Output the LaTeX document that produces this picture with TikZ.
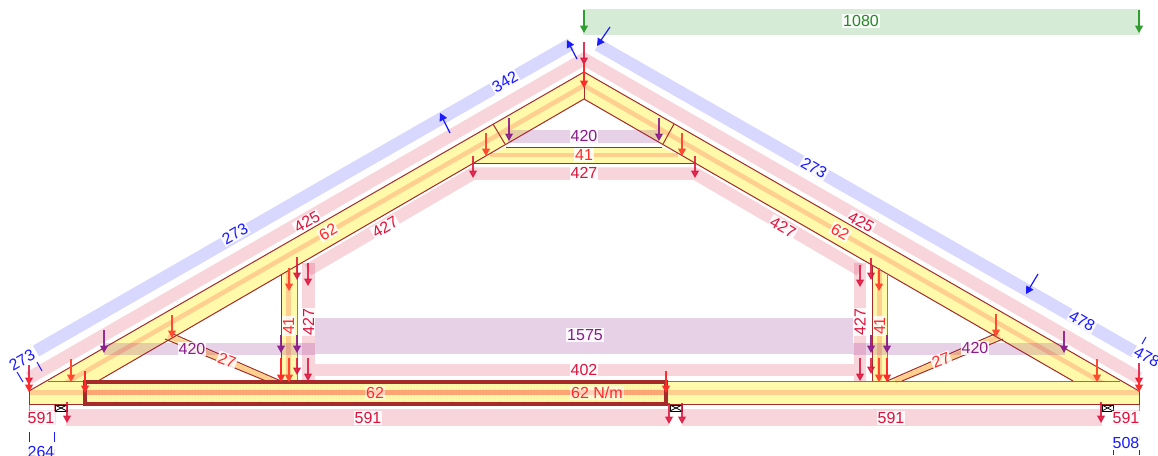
\documentclass[tikz,border=0pt]{standalone}
\usepackage{fontspec}
\setmainfont{Liberation Sans}
\usetikzlibrary{arrows.meta,patterns}
\definecolor{cCrim}{HTML}{DC143C}
\definecolor{cRed}{HTML}{FF2A2A}
\definecolor{cOra}{HTML}{FF4A30}
\definecolor{cVio}{HTML}{8B1A8B}
\definecolor{cBlu}{HTML}{1A1AFF}
\definecolor{cGrn}{HTML}{2E9E2E}
\definecolor{cEdge}{HTML}{A52A2A}
\definecolor{cYel}{HTML}{FFFAAA}
\definecolor{cMid}{HTML}{FFCF90}
\tikzset{
  member/.style={fill=cYel,draw=none},
  core/.style={line width=4.6pt,cMid},
  edge/.style={draw=cEdge,line width=1pt},
  pinkband/.style={draw=cCrim,opacity=.18,line width=12.5pt},
  blueband/.style={draw=cBlu,opacity=.17,line width=12.5pt},
  vioband/.style={fill=cVio,opacity=.2},
  pinkbox/.style={fill=cCrim,opacity=.18},
  lab/.style={font=\fontsize{16}{17}\selectfont,fill=white,fill opacity=.85,text opacity=1,inner sep=1pt,outer sep=0pt},
  tipA/.style={-{Triangle[length=7.5pt,width=8pt]},line width=1.2pt},
  arC/.style={tipA,cCrim,opacity=.85},
  arR/.style={tipA,cRed},
  arO/.style={tipA,cOra},
  arV/.style={tipA,cVio,opacity=.9},
  arB/.style={tipA,cBlu},
  arG/.style={tipA,cGrn},
  tickB/.style={cBlu,line width=1pt},
  tickC/.style={cCrim,line width=.8pt,opacity=.6},
  support/.style={draw=black,fill=white,line width=1pt},
}
\begin{document}
\begin{tikzpicture}[x=1pt,y=-1pt]
\useasboundingbox (0,0) rectangle (1158,455);
\clip (0,0) rectangle (1158,455);
\fill[white] (0,0) rectangle (1158,455);

% ---- timber members: fills
\fill[member] (281,275) -- (297,266) -- (297,381) -- (281,381) -- cycle;
\fill[member] (872,266) -- (887,275) -- (887,381) -- (872,381) -- cycle;
\fill[member] (171,333) -- (281,381) -- (266,381) -- (165,339) -- cycle;
\fill[member] (997,333) -- (887,381) -- (902,381) -- (1003,339) -- cycle;
\fill[member] (506,147) -- (662,147) -- (695,163) -- (473,163) -- cycle;
\fill[member] (29,391) -- (584,72) -- (1139,391) -- (1073,381) -- (584,99) -- (98,381) -- cycle;
\fill[member] (29,391) -- (48,381) -- (1120,381) -- (1139,391) -- (1139,404) -- (29,404) -- cycle;

% ---- timber members: centre lines
\draw[core] (288.5,271) -- (288.5,381);
\draw[core] (879.5,271) -- (879.5,381);
\draw[core] (168,336) -- (273,381);
\draw[core] (1000,336) -- (895,381);
\draw[core] (490,155) -- (678,155);
\begin{scope}
  \clip (0,0) rectangle (1158,381);
  \draw[core,line join=miter] (55,389) -- (584,85.5) -- (1113,389);
\end{scope}
\draw[core] (29,392.5) -- (1139,392.5);

% ---- timber members: outlines
\draw[edge] (281,275) -- (281,381);
\draw[edge,opacity=.7] (297,266) -- (297,381);
\draw[edge] (872,266) -- (872,381);
\draw[edge,opacity=.7] (887,275) -- (887,381);
\draw[edge] (171,333) -- (281,381);
\draw[edge] (165,339) -- (266,381);
\draw[edge] (997,333) -- (887,381);
\draw[edge] (1003,339) -- (902,381);
\draw[edge] (506,147) -- (662,147);
\draw[edge] (473,163) -- (695,163);
\draw[edge] (493,124) -- (505,144);
\draw[edge] (674,124) -- (663,144);
\draw[edge] (29,391) -- (584,72) -- (1139,391);
\draw[edge] (98,381) -- (584,99) -- (1073,381);
\draw[edge] (584,72) -- (584,99);
\draw[edge] (29,391) -- (29,404) -- (1139,404) -- (1139,391);
\draw[edge,opacity=.75] (48,381) -- (1120,381);

% ---- highlighted span
\fill[cYel] (85,382) rectangle (666,404);
\fill[pattern=dots,pattern color=orange!45] (85,382) rectangle (666,404);
\fill[orange!70!red!55] (85,390) rectangle (666,395);
\draw[cEdge,line width=3.2pt] (85,382) rectangle (666,404);

% ---- load bands
\draw[pinkband] (29,378) -- (584,59) -- (1139,378);
\draw[blueband] (36,351) -- (571,44);
\draw[blueband] (598,45) -- (1135,352);
\draw[pinkband] (308,270) -- (473,173.5) -- (695,173.5) -- (860,270);
\fill[pinkbox] (302,263) rectangle (315,381);
\fill[pinkbox] (854,263) rectangle (866,381);
\fill[pinkbox] (315,364) rectangle (854,376);
\fill[vioband] (315,318) rectangle (853,354);
\fill[vioband] (508,130) rectangle (659,143);
\fill[vioband] (104,343) rectangle (315,355);
\fill[vioband] (853,343) rectangle (1065,355);
\fill[pinkbox] (66,409) rectangle (669,426);
\fill[pinkbox] (682,409) rectangle (1102,426);
\fill[pinkbox,opacity=.12] (29,410) rectangle (56,425);
\fill[pinkbox,opacity=.12] (1112,410) rectangle (1139,425);
\fill[cGrn,opacity=.2] (583,9) rectangle (1140,35);

% ---- supports
\foreach \xa/\xb in {55/67,670/682,1102/1113}{
  \draw[support] (\xa,405) rectangle (\xb,411);
  \draw[black,line width=.7pt] (\xa,405) -- (\xb,411) (\xa,411) -- (\xb,405);
}

% ---- dimension ticks
\draw[tickB] (17,372) -- (23,382) (37,362) -- (42,371);
\draw[tickB] (1146,337) -- (1142,344);
\draw[tickB] (29,432) -- (29,442) (54,432) -- (54,442) (29,449) -- (29,455) (54,449) -- (54,455);
\draw[tickB] (1113,436) -- (1113,440) (1139,436) -- (1139,440) (1113,450) -- (1113,455) (1139,450) -- (1139,455);
\draw[tickC] (29,405) -- (29,415) (54,405) -- (54,415) (1113,408) -- (1113,415) (1139,405) -- (1139,415);

% ---- arrows
\foreach \x/\a/\b in {584/42/65,29/365/385,1139/363/385,473/156/178,695/156/178,297/257/280,308/263/286,297/358/375,308/358/381,860/265/287,860/358/381,871/258/280,871/358/374,67/402/423,669/403/424,682/403/424,1101/402/423}
  \draw[arC] (\x,\a) -- (\x,\b);
\foreach \x/\a/\b in {584/63/88,29/375/392,1139/375/392,85/371/393,666/371/393,281/358/382,887/358/382}
  \draw[arR] (\x,\a) -- (\x,\b);
\foreach \x/\a/\b in {486/133/156,682/133/156,71/359/382,172/315/338,289/268/291,289/358/382,879/268/291,879/358/382,996/314/337,1097/359/382}
  \draw[arO] (\x,\a) -- (\x,\b);
\foreach \x/\a/\b in {509/118/141,659/118/141,104/330/353,281/335/353,297/335/353,871/335/353,887/335/353,1064/331/353}
  \draw[arV] (\x,\a) -- (\x,\b);
\draw[arB] (450,133) -- (440,113);
\draw[arB] (577,59) -- (567,40);
\draw[arB] (610,27) -- (597,46);
\draw[arB] (1038,274) -- (1026,294);
\draw[arG] (584,10) -- (584,33);
\draw[arG] (1139,10) -- (1139,33);

% ---- labels
\node[lab,text=cGrn!85!black] (t1080) at (861,21) {1080};
\node[lab,text=cBlu,rotate=30] (t342) at (505,82) {342};
\node[lab,text=cBlu,rotate=30] (t273a) at (235,234) {273};
\node[lab,text=cBlu,rotate=30] (t273b) at (22,360) {273};
\node[lab,text=cBlu,rotate=-30] (t273c) at (814,168) {273};
\node[lab,text=cBlu,rotate=-30] (t478a) at (1082,321) {478};
\node[lab,text=cBlu,rotate=-30] (t478b) at (1147,357) {478};
\node[lab,text=cCrim,rotate=30] (t425a) at (307,222) {425};
\node[lab,text=cCrim,rotate=-30] (t425b) at (861,222) {425};
\node[lab,text=cRed,rotate=30] (t62a) at (328,232) {62};
\node[lab,text=cRed,rotate=-30] (t62b) at (840,232) {62};
\node[lab,text=cCrim,rotate=30] (t427a) at (385,227) {427};
\node[lab,text=cCrim,rotate=-30] (t427b) at (783,227) {427};
\node[lab,text=cVio] (t420a) at (584,136) {420};
\node[lab,text=cRed] (t41a) at (584,155) {41};
\node[lab,text=cCrim] (t427c) at (584,173) {427};
\node[lab,text=cVio] (t420b) at (192,349) {420};
\node[lab,text=cVio] (t420c) at (975,348) {420};
\node[lab,text=cRed,rotate=-21] (t27a) at (227,360) {27};
\node[lab,text=cRed,rotate=21] (t27b) at (941,360) {27};
\node[lab,text=cRed,rotate=90] (t41b) at (288.5,326) {41};
\node[lab,text=cCrim,rotate=90] (t427d) at (308.5,322) {427};
\node[lab,text=cCrim,rotate=90] (t427e) at (860,322) {427};
\node[lab,text=cRed,rotate=90] (t41c) at (879.5,326) {41};
\node[lab,text=cVio] (t1575) at (585,335) {1575};
\node[lab,text=cCrim] (t402) at (584,370) {402};
\node[lab,text=cRed,fill opacity=.5] (t62c) at (375,393) {62};
\node[lab,text=cRed,fill opacity=.5] (t62d) at (597,393) {62 N/m};
\node[lab,text=cCrim] (t591a) at (41,418) {591};
\node[lab,text=cCrim] (t591b) at (368,418) {591};
\node[lab,text=cCrim] (t591c) at (891,418) {591};
\node[lab,text=cCrim] (t591d) at (1126,418) {591};
\node[lab,text=cBlu] (t264) at (41,452) {264};
\node[lab,text=cBlu] (t508) at (1126,443) {508};
\end{tikzpicture}
\end{document}
